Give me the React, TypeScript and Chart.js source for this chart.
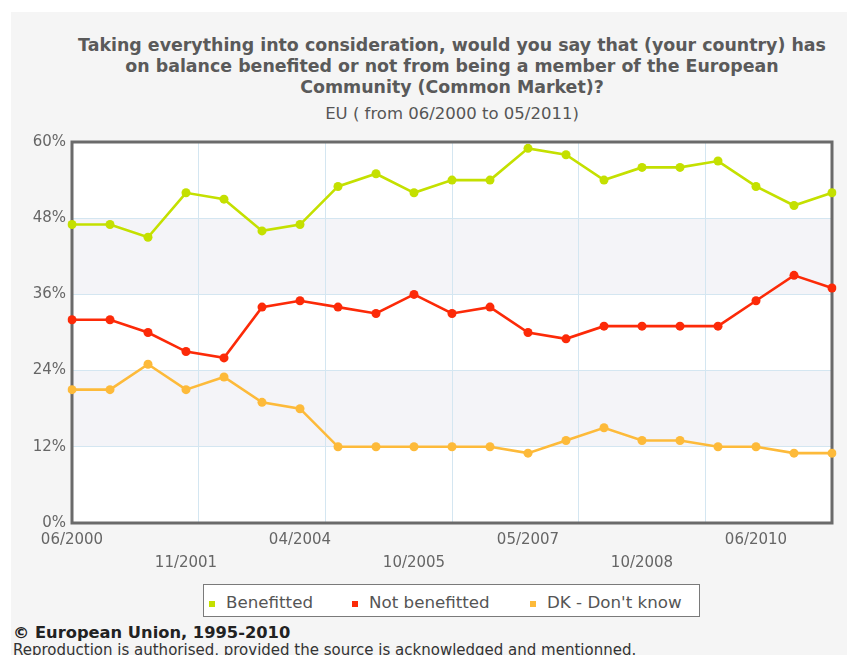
import React, { useEffect, useRef } from "react";
import { Chart, registerables } from "chart.js";

Chart.register(...registerables);

// ---- data ----
const waveLabels: string[] = [
  "06/2000", "", "", "11/2001", "", "", "04/2004", "", "", "10/2005", "",
  "", "05/2007", "", "", "10/2008", "", "", "06/2010", "", "",
];
const benefitted: number[] = [47, 47, 45, 52, 51, 46, 47, 53, 55, 52, 54, 54, 59, 58, 54, 56, 56, 57, 53, 50, 52];
const notBenefitted: number[] = [32, 32, 30, 27, 26, 34, 35, 34, 33, 36, 33, 34, 30, 29, 31, 31, 31, 31, 35, 39, 37];
const dontKnow: number[] = [21, 21, 25, 21, 23, 19, 18, 12, 12, 12, 12, 12, 11, 13, 15, 13, 13, 12, 12, 11, 11];
const yTicks: number[] = [0, 12, 24, 36, 48, 60];
const seriesNames: string[] = ["Benefitted", "Not benefitted", "DK - Don't know"];
const seriesColors: string[] = ["#c4e000", "#fc2a08", "#fdba3a"];

const titleLines: string[] = [
  "Taking everything into consideration, would you say that (your country) has",
  "on balance benefited or not from being a member of the European",
  "Community (Common Market)?",
];
const subtitle = "EU ( from 06/2000 to 05/2011)";

const FONT = "'DejaVu Sans', Verdana, sans-serif";

const bandsAndBorder = {
  id: "bandsAndBorder",
  beforeDraw(chart: any) {
    const { ctx, chartArea } = chart;
    const y = chart.scales.y;
    ctx.save();
    ctx.fillStyle = "#ffffff";
    ctx.fillRect(chartArea.left, chartArea.top, chartArea.right - chartArea.left, chartArea.bottom - chartArea.top);
    ctx.fillStyle = "#f4f4f8";
    const bands = [[12, 24], [36, 48]];
    for (const [a, b] of bands) {
      const y1 = y.getPixelForValue(b);
      const y2 = y.getPixelForValue(a);
      ctx.fillRect(chartArea.left, y1, chartArea.right - chartArea.left, y2 - y1);
    }
    ctx.restore();
  },
  beforeDatasetsDraw(chart: any) {
    const { ctx, chartArea } = chart;
    ctx.save();
    ctx.strokeStyle = "#6a6a6a";
    ctx.lineWidth = 3;
    ctx.strokeRect(chartArea.left, chartArea.top, chartArea.right - chartArea.left, chartArea.bottom - chartArea.top);
    ctx.restore();
  },
};

function LineChart() {
  const ref = useRef<HTMLCanvasElement | null>(null);
  useEffect(() => {
    if (!ref.current) return;
    const series = [benefitted, notBenefitted, dontKnow];
    const chart = new Chart(ref.current, {
      type: "line",
      data: {
        labels: waveLabels.map((l, i) => (l ? l : "w" + i)),
        datasets: series.map((d, i) => ({
          label: seriesNames[i],
          data: d,
          borderColor: seriesColors[i],
          backgroundColor: seriesColors[i],
          pointBackgroundColor: seriesColors[i],
          pointBorderWidth: 0,
          pointRadius: 4.5,
          borderWidth: 2.6,
          tension: 0,
          fill: false,
          xAxisID: "x",
          yAxisID: "y",
        })),
      },
      options: {
        animation: false,
        responsive: false,
        events: [],
        layout: { padding: { top: 0, right: 15, left: 0, bottom: 0 } },
        plugins: { legend: { display: false }, tooltip: { enabled: false }, title: { display: false } },
        scales: {
          x: {
            type: "category",
            position: "bottom",
            offset: false,
            grid: { display: false, drawTicks: false },
            border: { display: false },
            ticks: {
              autoSkip: false,
              maxRotation: 0,
              minRotation: 0,
              padding: 5.5,
              color: "#666",
              font: { family: FONT, size: 15, lineHeight: 1.5333 },
              callback: (_v: any, idx: number) => {
                const l = waveLabels[idx];
                if (!l) return "";
                return (idx / 3) % 2 === 0 ? l : ["", l];
              },
            },
            afterFit: (s: any) => { s.height = 57; },
          },
          xg: {
            type: "linear",
            position: "bottom",
            min: 0,
            max: 6,
            ticks: { display: false, stepSize: 1 },
            grid: { color: "#d4e6f1", lineWidth: 1, drawTicks: false },
            border: { display: false },
            afterFit: (s: any) => { s.height = 0; },
          },
          y: {
            min: 0,
            max: 60,
            grid: { color: "#d4e6f1", lineWidth: 1, drawTicks: false },
            border: { display: false },
            afterBuildTicks: (s: any) => { s.ticks = yTicks.map((v) => ({ value: v })); },
            ticks: {
              padding: 6,
              color: "#666",
              font: { family: FONT, size: 15 },
              callback: (v: any) => v + "%",
            },
            afterFit: (s: any) => { s.width = 61; },
          },
        },
      },
      plugins: [bandsAndBorder],
    } as any);
    return () => chart.destroy();
  }, []);
  return (
    <canvas
      ref={ref}
      width={836}
      height={453}
      style={{ position: "absolute", left: 11, top: 127, width: 836, height: 453 }}
    />
  );
}

export default function App() {
  const legendItems = [
    { sq: 209, tx: 226 },
    { sq: 352, tx: 369 },
    { sq: 530, tx: 547 },
  ];
  return (
    <div style={{ position: "absolute", left: 0, top: 0, width: 847, height: 655, overflow: "hidden", background: "#fff" }}>
      <div style={{ position: "absolute", left: 11, top: 12, width: 836, height: 643, background: "#f5f5f5" }} />
      <div
        style={{
          position: "absolute", left: 52, top: 34.5, width: 800, textAlign: "center",
          fontFamily: FONT, fontWeight: "bold", fontSize: 17.4, lineHeight: "21px", color: "#5a5a5a", whiteSpace: "nowrap",
        }}
      >
        {titleLines.map((l, i) => (<div key={i}>{l}</div>))}
      </div>
      <div
        style={{
          position: "absolute", left: 52, top: 104.3, width: 800, textAlign: "center",
          fontFamily: FONT, fontSize: 16.5, lineHeight: "20px", color: "#555", whiteSpace: "nowrap",
        }}
      >
        {subtitle}
      </div>
      <LineChart />
      <div
        style={{
          position: "absolute", left: 203, top: 584, width: 497, height: 33, background: "#fff",
          border: "1px solid #7a7a7a", boxSizing: "border-box",
        }}
      />
      {legendItems.map((it, i) => (
        <React.Fragment key={i}>
          <div style={{ position: "absolute", left: it.sq, top: 600.5, width: 6, height: 6.5, background: seriesColors[i] }} />
          <div
            style={{
              position: "absolute", left: it.tx, top: 591.9, fontFamily: FONT, fontSize: 16.7,
              lineHeight: "20px", color: "#555", whiteSpace: "nowrap",
            }}
          >
            {seriesNames[i]}
          </div>
        </React.Fragment>
      ))}
      <div
        style={{
          position: "absolute", left: 13, top: 622.7, fontFamily: FONT, fontWeight: "bold", fontSize: 16.3,
          lineHeight: "20px", color: "#222", whiteSpace: "nowrap",
        }}
      >
        © European Union, 1995-2010
      </div>
      <div
        style={{
          position: "absolute", left: 13, top: 641, fontFamily: FONT, fontSize: 15,
          lineHeight: "18px", color: "#333", whiteSpace: "nowrap",
        }}
      >
        Reproduction is authorised, provided the source is acknowledged and mentionned.
      </div>
    </div>
  );
}
